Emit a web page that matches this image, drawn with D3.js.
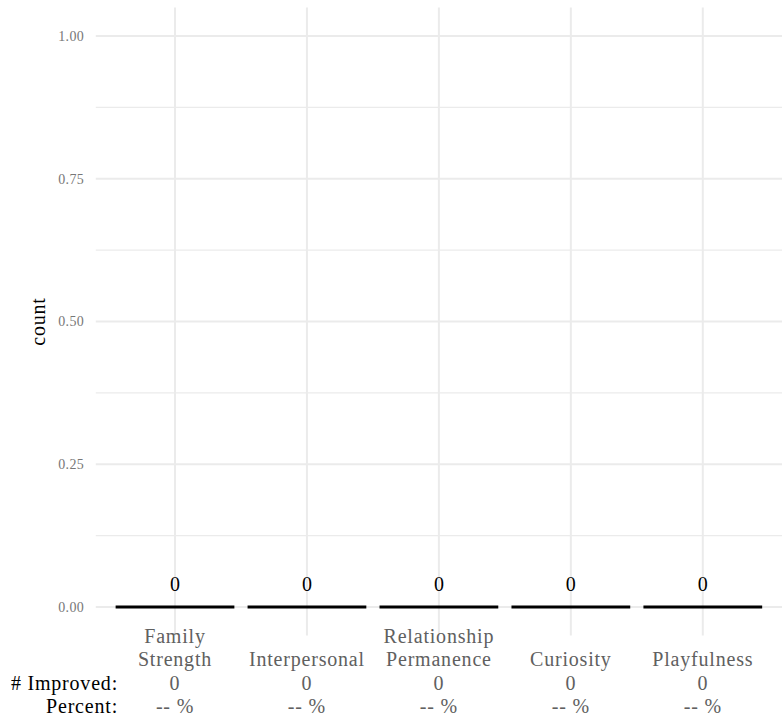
<!DOCTYPE html>
<html><head><meta charset="utf-8">
<script src="https://cdn.jsdelivr.net/npm/d3@7"></script>
<style>body{margin:0;background:#fff}svg{display:block}svg text{font-family:"Liberation Serif","Times New Roman","DejaVu Serif",serif}</style>
</head><body>
<script>
const categories = ["Family Strength","Interpersonal","Relationship Permanence","Curiosity","Playfulness"];
const categoryLines = [["Family","Strength"],["Interpersonal"],["Relationship","Permanence"],["Curiosity"],["Playfulness"]];
const counts = [0,0,0,0,0];
const improved = [0,0,0,0,0];
const percents = ["--","--","--","--","--"];
const yTicks = [0,0.25,0.5,0.75,1.0];
const yMinor = [0.125,0.375,0.625,0.875];

(function(){
const W=784,H=719;
const svg=d3.select("body").append("svg").attr("width",W).attr("height",H);

const pL=95.8,pR=782,pT=7.5,pB=635.5;
const x=d3.scalePoint().domain(categories).range([pL+0.6*132,pR-0.6*132]);
const step=x.step();
const y=d3.scaleLinear().domain([-0.05,1.05]).range([pB,pT]);

const grid="#ebebeb";
svg.append("g").selectAll("line").data(yMinor).join("line")
  .attr("x1",pL).attr("x2",pR).attr("y1",d=>y(d)).attr("y2",d=>y(d))
  .attr("stroke",grid).attr("stroke-width",1.1);
svg.append("g").selectAll("line").data(yTicks).join("line")
  .attr("x1",pL).attr("x2",pR).attr("y1",d=>y(d)).attr("y2",d=>y(d))
  .attr("stroke",grid).attr("stroke-width",2);
svg.append("g").selectAll("line").data(categories).join("line")
  .attr("x1",d=>x(d)).attr("x2",d=>x(d)).attr("y1",pT).attr("y2",pB)
  .attr("stroke",grid).attr("stroke-width",2);

svg.append("g").selectAll("text").data(yTicks).join("text")
  .attr("x",84).attr("y",d=>y(d)).attr("dy","0.35em").attr("text-anchor","end")
  .attr("fill","#777").attr("font-size",14).attr("letter-spacing",0.3).text(d=>d3.format(".2f")(d));

svg.append("text").attr("transform",`translate(45,${(pT+pB)/2}) rotate(-90)`)
  .attr("text-anchor","middle").attr("font-size",20).attr("letter-spacing",0.8).attr("fill","#000").text("count");

const bw=0.9*step;
svg.append("g").selectAll("path").data(categories).join("path")
  .attr("d",(d,i)=>{
    const x0=x(d)-bw/2, x1=x(d)+bw/2, y0=y(0), y1=y(counts[i]);
    return `M${x0},${y0}L${x0},${y1}L${x1},${y1}L${x1},${y0}Z`;
  })
  .attr("fill","#888").attr("stroke","#000").attr("stroke-width",3).attr("stroke-linejoin","miter");

svg.append("g").selectAll("text").data(categories).join("text")
  .attr("x",d=>x(d)).attr("y",(d,i)=>y(counts[i])-16).attr("text-anchor","middle")
  .attr("font-size",20).attr("fill","#000").text((d,i)=>counts[i]);

const lh=23.5, lastBase=713;
const xl=svg.append("g");
categories.forEach((c,i)=>{
  const lines=[...categoryLines[i], String(improved[i]), percents[i]+" %"];
  lines.forEach((t,j)=>{
    xl.append("text").attr("x",x(c)).attr("y",lastBase-(lines.length-1-j)*lh)
      .attr("text-anchor","middle").attr("font-size",20).attr("letter-spacing",0.8)
      .attr("fill","#606060").text(t);
  });
});
svg.append("text").attr("x",118).attr("y",lastBase-lh).attr("text-anchor","end")
  .attr("font-size",20).attr("letter-spacing",0.8).attr("fill","#000").text("# Improved:");
svg.append("text").attr("x",118).attr("y",lastBase).attr("text-anchor","end")
  .attr("font-size",20).attr("letter-spacing",0.8).attr("fill","#000").text("Percent:");
})();
</script>
</body></html>
